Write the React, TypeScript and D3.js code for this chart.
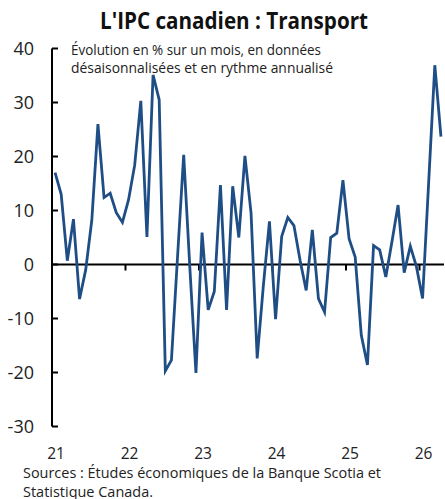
import * as d3 from "d3";

// monthly % change, annualized (Jan 2021 -> Apr 2026)
const values2021 = [17.0, 13.0, 0.7, 8.4, -6.4, -1.0, 8.2, 26.0, 12.4, 13.2, 9.6, 7.8];
const values2022 = [12.0, 18.4, 30.3, 5.1, 35.1, 30.5, -19.7, -17.7, 1.5, 20.3, -0.5, -20.1];
const values2023 = [5.9, -8.4, -5.0, 14.7, -8.4, 14.5, 5.0, 20.1, 9.5, -17.4, -4.0, 8.0];
const values2024 = [-10.1, 5.2, 8.7, 7.2, 0.8, -4.8, 6.4, -6.3, -8.8, 5.0, 5.8, 15.6];
const values2025 = [4.8, 1.4, -13.1, -18.6, 3.5, 2.7, -2.3, 4.2, 11.0, -1.5, 3.4, -0.4];
const values2026 = [-6.3, 15.3, 36.9, 23.7];

const yearLabels = ["21", "22", "23", "24", "25", "26"];
const yTicks = [40, 30, 20, 10, 0, -10, -20, -30];

const title = "L'IPC canadien : Transport";
const subtitle = ["Évolution en % sur un mois, en données", "désaisonnalisées et en rythme annualisé"];
const source = ["Sources : Études économiques de la Banque Scotia et", "Statistique Canada."];

const W = 445;
const H = 499;
const FONT = "'Open Sans', 'Noto Sans', sans-serif";

export default function App() {
  const data = [...values2021, ...values2022, ...values2023, ...values2024, ...values2025, ...values2026];

  const x = d3.scaleLinear().domain([0, 64]).range([52, 444]);
  const y = d3.scaleLinear().domain([-30, 40]).range([426.5, 48.5]);

  const line = d3
    .line<number>()
    .x((_, i) => x(i + 0.5))
    .y((d) => y(d));

  return (
    <svg width={W} height={H} style={{ position: "absolute", left: 0, top: 0, background: "#fff" }} fontFamily={FONT}>
      <text x={234} y={29} textAnchor="middle" fontSize={22.5} fontWeight="bold" fill="#111" textLength={268} lengthAdjust="spacingAndGlyphs">
        {title}
      </text>
      {subtitle.map((s, i) => (
        <text key={s} x={71} y={55 + i * 17.5} fontSize={15} fill="#222" textLength={i === 0 ? 250 : 262} lengthAdjust="spacingAndGlyphs">
          {s}
        </text>
      ))}

      {/* y axis */}
      <line x1={52} x2={52} y1={y(40)} y2={y(-30)} stroke="#000" strokeWidth={2} />
      {yTicks.map((t) => (
        <g key={t}>
          <line x1={52} x2={58} y1={y(t)} y2={y(t)} stroke="#000" strokeWidth={2} />
          <text x={34} y={y(t)} dy="0.36em" textAnchor="end" fontSize={18} fill="#222">
            {t}
          </text>
        </g>
      ))}

      {/* x axis at zero */}
      <line x1={52} x2={444} y1={y(0)} y2={y(0)} stroke="#000" strokeWidth={2.2} />
      {yearLabels.map((lab, i) => (
        <g key={lab}>
          {i > 0 && <line x1={x(i * 12)} x2={x(i * 12)} y1={y(0)} y2={y(0) + 6} stroke="#000" strokeWidth={2} />}
          <text x={x(i * 12) + 4} y={459} textAnchor="middle" fontSize={15.5} fill="#222">
            {lab}
          </text>
        </g>
      ))}

      <path d={line(data) ?? ""} fill="none" stroke="#1F4E86" strokeWidth={2.8} strokeLinejoin="miter" />

      {source.map((s, i) => (
        <text key={s} x={23} y={478 + i * 18.5} fontSize={15} fill="#222" textLength={i === 0 ? 358 : 130} lengthAdjust="spacingAndGlyphs">
          {s}
        </text>
      ))}
    </svg>
  );
}
